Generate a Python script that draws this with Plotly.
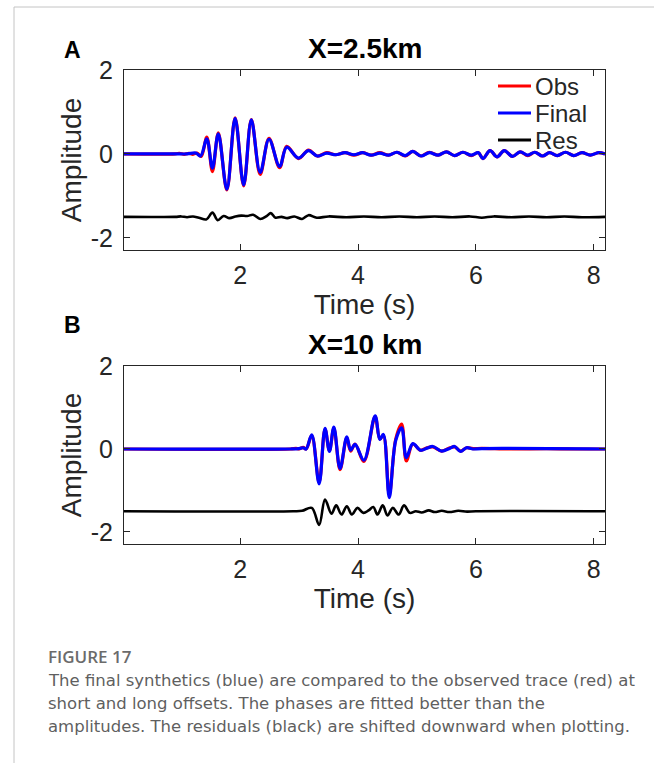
import plotly.graph_objects as go

# ---------------- data ----------------
# Panel A : X = 2.5 km
tA_fin = [0.03, 0.9, 1.1, 1.25, 1.33, 1.435, 1.53, 1.63, 1.775, 1.915, 2.06, 2.19, 2.34, 2.49,
          2.67, 2.79, 2.99, 3.16, 3.31, 3.47, 3.62, 3.78, 3.93, 4.08, 4.22, 4.37, 4.52, 4.66,
          4.80, 4.93, 5.07, 5.21, 5.36, 5.50, 5.64, 5.78, 5.92, 6.04, 6.12, 6.24, 6.36, 6.48,
          6.62, 6.75, 6.88, 7.00, 7.13, 7.25, 7.38, 7.52, 7.66, 7.80, 7.94, 8.08, 8.19]
aA_fin = [0.0, 0.0, 0.0, 0.02, -0.05, 0.36, -0.34, 0.48, -0.84, 0.85, -0.74, 0.81, -0.44, 0.35,
          -0.30, 0.16, -0.10, 0.08, -0.05, 0.02, -0.02, 0.03, -0.02, 0.03, -0.03, 0.02, -0.03, 0.04,
          -0.04, 0.06, -0.05, 0.03, -0.03, 0.05, -0.04, 0.04, -0.03, 0.03, -0.11, 0.08, -0.07, 0.08,
          -0.06, 0.05, -0.03, 0.04, -0.05, 0.03, -0.04, 0.04, -0.04, 0.03, -0.03, 0.03, 0.0]
tA_obs = [0.03, 0.9, 0.97, 1.05, 1.13, 1.2, 1.27, 1.34, 1.435, 1.53, 1.63, 1.775, 1.915, 2.06,
          2.19, 2.34, 2.49, 2.67, 2.79, 2.99, 3.16, 3.31, 3.47, 3.62, 3.78, 3.93, 4.08, 4.22,
          4.37, 4.52, 4.66, 4.80, 4.93, 5.07, 5.21, 5.36, 5.50, 5.64, 5.78, 5.92, 6.04, 6.12,
          6.24, 6.36, 6.48, 6.62, 6.75, 6.88, 7.00, 7.13, 7.25, 7.38, 7.52, 7.66, 7.80, 7.94,
          8.08, 8.19]
aA_obs = [0.0, 0.0, 0.015, -0.01, 0.015, -0.01, 0.02, -0.06, 0.40, -0.42, 0.50, -0.86, 0.86, -0.76,
          0.82, -0.49, 0.37, -0.33, 0.18, -0.11, 0.09, -0.05, 0.03, -0.02, 0.03, -0.03, 0.03, -0.03,
          0.03, -0.03, 0.04, -0.05, 0.06, -0.05, 0.04, -0.03, 0.05, -0.04, 0.04, -0.04, 0.03, -0.11,
          0.08, -0.07, 0.08, -0.06, 0.05, -0.04, 0.04, -0.05, 0.03, -0.04, 0.04, -0.04, 0.03, -0.03,
          0.03, 0.0]
tA_res = [0.03, 0.9, 1.0, 1.1, 1.2, 1.3, 1.43, 1.53, 1.62, 1.72, 1.82, 1.92, 2.02, 2.12, 2.22,
          2.34, 2.45, 2.52, 2.60, 2.70, 2.80, 2.92, 3.05, 3.16, 3.30, 3.5, 3.8, 4.1, 4.4, 4.7,
          5.0, 5.3, 5.6, 5.9, 6.1, 6.3, 6.6, 6.9, 7.2, 7.5, 7.8, 8.19]
rA_res = [0.0, 0.0, 0.01, -0.01, 0.01, -0.02, -0.06, 0.10, -0.08, 0.02, -0.03, 0.01, 0.03, 0.02,
          0.05, -0.05, 0.02, 0.09, -0.02, 0.0, -0.03, 0.01, -0.05, 0.04, -0.02, 0.01, -0.01, 0.01,
          -0.01, 0.01, -0.01, 0.01, -0.01, 0.01, -0.02, 0.01, -0.01, 0.01, -0.01, 0.01, -0.01, 0.0]

# Panel B : X = 10 km
tB_fin = [0.03, 2.85, 3.0, 3.07, 3.12, 3.215, 3.34, 3.44, 3.515, 3.59, 3.695, 3.81, 3.875, 3.95,
          4.10, 4.29, 4.37, 4.43, 4.53, 4.64, 4.74, 4.82, 4.93, 5.06, 5.17, 5.27, 5.42, 5.56,
          5.64, 5.74, 5.84, 5.95, 6.1, 8.19]
aB_fin = [0.0, 0.0, 0.01, 0.03, 0.0, 0.34, -0.84, 0.50, -0.06, 0.53, -0.47, 0.29, -0.03, 0.11,
          -0.27, 0.80, 0.23, 0.35, -1.17, 0.21, 0.51, -0.21, 0.13, -0.03, 0.02, 0.06, -0.05, 0.02,
          0.06, -0.06, 0.03, 0.0, 0.01, 0.0]
tB_obs = [0.03, 2.85, 2.95, 3.0, 3.07, 3.12, 3.215, 3.34, 3.44, 3.515, 3.59, 3.695, 3.81, 3.875,
          3.95, 4.10, 4.29, 4.37, 4.43, 4.53, 4.64, 4.74, 4.82, 4.93, 5.06, 5.17, 5.27, 5.42,
          5.56, 5.64, 5.74, 5.84, 5.95, 6.1, 6.6, 7.2, 7.8, 8.19]
aB_obs = [0.0, 0.0, 0.015, 0.0, 0.04, 0.0, 0.32, -0.80, 0.48, -0.04, 0.50, -0.50, 0.27, -0.05,
          0.12, -0.30, 0.78, 0.24, 0.33, -1.10, 0.24, 0.60, -0.29, 0.12, -0.03, 0.03, 0.05, -0.05,
          0.03, 0.05, -0.05, 0.03, 0.01, 0.015, 0.0, 0.01, 0.0, 0.0]
tB_res = [0.03, 2.9, 3.05, 3.215, 3.34, 3.44, 3.55, 3.63, 3.72, 3.81, 3.895, 3.99, 4.09, 4.18,
          4.26, 4.33, 4.42, 4.50, 4.59, 4.69, 4.78, 4.88, 4.98, 5.08, 5.2, 5.3, 5.42, 5.55, 5.7,
          5.85, 6.0, 8.19]
rB_res = [0.0, 0.0, 0.01, 0.08, -0.33, 0.28, -0.06, 0.14, -0.08, 0.12, -0.08, 0.08, -0.04, 0.02,
          0.10, -0.08, 0.14, -0.10, 0.08, -0.08, 0.14, -0.04, 0.0, -0.03, 0.02, -0.02, 0.01, -0.02,
          0.01, -0.01, 0.0, 0.0]

res_shift = -1.5
series_names = ["Obs", "Final", "Res"]
series_colors = ["#ff0000", "#0000ff", "#000000"]
titles = ["X=2.5km", "X=10 km"]
panel_letters = ["A", "B"]
x_ticks = [2, 4, 6, 8]
y_ticks = [-2, 0, 2]
y_ticktext = ["-2", "0", "2"]
caption_head = "FIGURE 17"
caption_lines = [
    "The final synthetics (blue) are compared to the observed trace (red) at",
    "short and long offsets. The phases are fitted better than the",
    "amplitudes. The residuals (black) are shifted downward when plotting.",
]

# ---------------- figure ----------------
W, H = 654, 763
FONT = "Liberation Sans"
AX = "#262626"


def px_x(p):
    return p / W


def px_y(p):
    return 1 - p / H


fig = go.Figure()

panels = [
    (tA_obs, aA_obs, tA_fin, aA_fin, tA_res, rA_res, "x", "y"),
    (tB_obs, aB_obs, tB_fin, aB_fin, tB_res, rB_res, "x2", "y2"),
]
widths = [3.2, 3.2, 2.6]
for i, (to, ao, tf, af, tr, rr, xa, ya) in enumerate(panels):
    ys = [ao, af, [v + res_shift for v in rr]]
    xs = [to, tf, tr]
    for k in range(3):
        fig.add_trace(go.Scatter(
            x=xs[k], y=ys[k], mode="lines", name=series_names[k], xaxis=xa, yaxis=ya,
            line=dict(color=series_colors[k], width=widths[k], shape="spline", smoothing=1.0),
            showlegend=False))

xdom = [px_x(124), px_x(605)]
ydomA = [px_y(250), px_y(70)]
ydomB = [px_y(544), px_y(366)]

axis_common = dict(showgrid=False, zeroline=False, showline=True, linecolor=AX, linewidth=1,
                   mirror="ticks", ticks="inside", ticklen=6, tickwidth=1, tickcolor=AX,
                   automargin=False, tickfont=dict(family=FONT, size=25, color=AX))

xax = dict(axis_common, range=[0.03, 8.19], tickvals=x_ticks, ticklabelstandoff=3,
           title=dict(text="Time (s)", font=dict(family=FONT, size=28, color=AX), standoff=6))
yax = dict(axis_common, range=[-2.29, 2.0], tickvals=y_ticks, ticktext=y_ticktext,
           ticklabelstandoff=5,
           title=dict(text="Amplitude", font=dict(family=FONT, size=28, color=AX), standoff=0))

fig.update_layout(
    width=W, height=H, margin=dict(l=0, r=0, t=0, b=0),
    paper_bgcolor="white", plot_bgcolor="white",
    xaxis=dict(xax, domain=xdom, anchor="y"),
    yaxis=dict(yax, domain=ydomA, anchor="x"),
    xaxis2=dict(xax, domain=xdom, anchor="y2"),
    yaxis2=dict(yax, domain=ydomB, anchor="x2"),
    showlegend=False,
)

ann = []
shapes = []
for title, letter, top, ltr_y in zip(titles, panel_letters, [70, 366], [50, 325]):
    ann.append(dict(text="<b>%s</b>" % title, xref="paper", yref="paper",
                    x=px_x(364.5), y=px_y(top - 22), xanchor="center", yanchor="middle",
                    showarrow=False, font=dict(family=FONT, size=28, color="#000000")))
    ann.append(dict(text="<b>%s</b>" % letter, xref="paper", yref="paper",
                    x=px_x(72), y=px_y(ltr_y), xanchor="center", yanchor="middle",
                    showarrow=False, font=dict(family=FONT, size=23, color="#000000")))

# legend (panel A, top-right, no box)
for k, (name, col) in enumerate(zip(series_names, series_colors)):
    yy = px_y(86 + 27 * k)
    shapes.append(dict(type="line", xref="paper", yref="paper", x0=px_x(498), x1=px_x(531),
                       y0=yy, y1=yy, line=dict(color=col, width=3.2)))
    ann.append(dict(text=name, xref="paper", yref="paper", x=px_x(533), y=yy,
                    xanchor="left", yanchor="middle", showarrow=False,
                    font=dict(family=FONT, size=24, color=AX)))

ann.append(dict(text=caption_head, xref="paper", yref="paper",
                x=px_x(46), y=px_y(656), xanchor="left", yanchor="middle", showarrow=False,
                font=dict(family="Open Sans", size=17, color="#6b6b6b", weight=600)))
for k, line in enumerate(caption_lines):
    ann.append(dict(text=line, xref="paper", yref="paper",
                    x=px_x(46), y=px_y(680 + 23.3 * k), xanchor="left", yanchor="middle",
                    showarrow=False,
                    font=dict(family="DejaVu Sans", size=16.5, color="#5f5f5f")))

shapes += [
    dict(type="line", xref="paper", yref="paper", x0=px_x(14), x1=1, y0=px_y(7), y1=px_y(7),
         line=dict(color="#c4c4c4", width=1)),
    dict(type="line", xref="paper", yref="paper", x0=px_x(14), x1=px_x(14), y0=px_y(7), y1=0,
         line=dict(color="#c4c4c4", width=1)),
]
fig.update_layout(annotations=ann, shapes=shapes)

fig.write_html("out.html")
